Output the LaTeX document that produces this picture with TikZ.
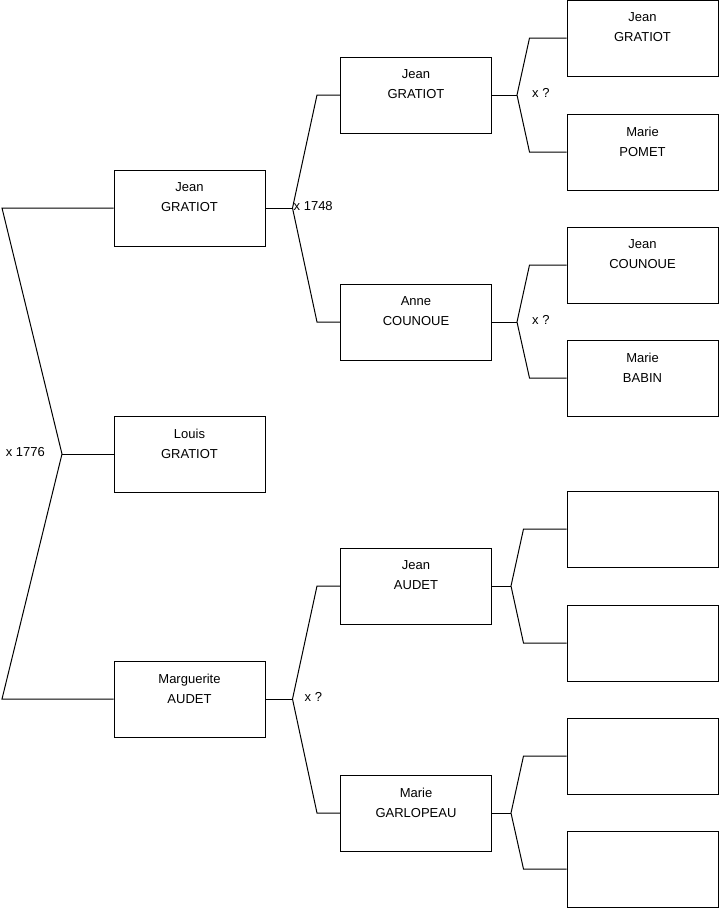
\documentclass[tikz,border=0pt]{standalone}
\usepackage{fontspec}
\setmainfont{Liberation Sans}
\usepackage{tikz}
\usetikzlibrary{positioning}
\tikzstyle{person} = [rectangle, draw, line width=1pt, minimum width=151pt,
                      minimum height=76pt, inner sep=0pt]
\tikzstyle{names}  = [anchor=north, yshift=-13pt, inner sep=0pt, align=center,
                      font=\fontsize{13}{20}\selectfont]
\tikzstyle{link}   = [line width=1pt, line join=miter]
\tikzstyle{marr}   = [inner sep=0pt, yshift=2pt, font=\fontsize{13}{16}\selectfont]

\begin{document}
\begin{tikzpicture}[x=1pt, y=-1pt]
  \useasboundingbox (0,0) rectangle (719,908);

  % Siblings
  \node[person, label={[names]north:Jean\\GRATIOT}]       (g1a) at (189.5,208) {};
  \node[person, label={[names]north:Louis\\GRATIOT}]      (g1b) at (189.5,454) {};
  \node[person, label={[names]north:Marguerite\\AUDET}]   (g1c) at (189.5,699) {};

  % Parents
  \node[person, label={[names]north:Jean\\GRATIOT}]       (g2a) at (416,95) {};
  \node[person, label={[names]north:Anne\\COUNOUE}]       (g2b) at (416,322) {};
  \node[person, label={[names]north:Jean\\AUDET}]         (g2c) at (416,586) {};
  \node[person, label={[names]north:Marie\\GARLOPEAU}]    (g2d) at (416,813) {};

  % Grandparents
  \node[person, label={[names]north:Jean\\GRATIOT}]       (g3a) at (642.5,38) {};
  \node[person, label={[names]north:Marie\\POMET}]        (g3b) at (642.5,152) {};
  \node[person, label={[names]north:Jean\\COUNOUE}]       (g3c) at (642.5,265) {};
  \node[person, label={[names]north:Marie\\BABIN}]        (g3d) at (642.5,378) {};
  \node[person] (g3e) at (642.5,529) {};
  \node[person] (g3f) at (642.5,643) {};
  \node[person] (g3g) at (642.5,756) {};
  \node[person] (g3h) at (642.5,869) {};

  % Marriage x 1776
  \coordinate (tl) at (2,208);
  \coordinate (bl) at (2,699);
  \coordinate (j0) at (62,454);
  \draw[link] (g1a.west) -- (tl) -- (j0) -- (bl) -- (g1c.west);
  \draw[link] (j0) -- (g1b.west);
  \node[marr, left=17pt of j0] (m0) {x 1776};

  % Marriages of the parents
  \coordinate (j1a) at ([xshift=27pt]g1a.east);
  \draw[link] (g1a.east) -- (j1a);
  \draw[link] (g2a.west) -- ++(-23,0) -- (j1a) -- ([xshift=-23pt]g2b.west) -- (g2b.west);
  \node[marr, anchor=west] (m1a) at ([xshift=1pt]j1a) {x 1748};

  \coordinate (j1c) at ([xshift=27pt]g1c.east);
  \draw[link] (g1c.east) -- (j1c);
  \draw[link] (g2c.west) -- ++(-23,0) -- (j1c) -- ([xshift=-23pt]g2d.west) -- (g2d.west);
  \node[marr, right=12pt of j1c] (m1c) {x ?};

  % Marriages of the grandparents
  \coordinate (j2a) at ([xshift=25pt]g2a.east);
  \draw[link] (g2a.east) -- (j2a);
  \draw[link] (g3a.west) -- ++(-37,0) -- (j2a) -- ([xshift=-37pt]g3b.west) -- (g3b.west);
  \node[marr, right=15pt of j2a] (m2a) {x ?};

  \coordinate (j2b) at ([xshift=25pt]g2b.east);
  \draw[link] (g2b.east) -- (j2b);
  \draw[link] (g3c.west) -- ++(-37,0) -- (j2b) -- ([xshift=-37pt]g3d.west) -- (g3d.west);
  \node[marr, right=15pt of j2b] (m2b) {x ?};

  \coordinate (j2c) at ([xshift=19pt]g2c.east);
  \draw[link] (g2c.east) -- (j2c);
  \draw[link] (g3e.west) -- ++(-43,0) -- (j2c) -- ([xshift=-43pt]g3f.west) -- (g3f.west);

  \coordinate (j2d) at ([xshift=19pt]g2d.east);
  \draw[link] (g2d.east) -- (j2d);
  \draw[link] (g3g.west) -- ++(-43,0) -- (j2d) -- ([xshift=-43pt]g3h.west) -- (g3h.west);
\end{tikzpicture}
\end{document}
